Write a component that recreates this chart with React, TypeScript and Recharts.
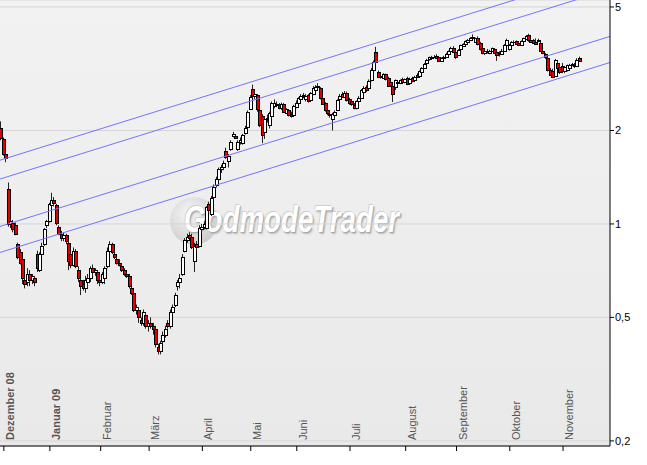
import React from 'react';
import { ComposedChart, Bar, XAxis, YAxis, CartesianGrid, ReferenceLine } from 'recharts';

type OHLC = [number, number, number, number];

// daily candles per month: [open, high, low, close]
const nov08: OHLC[] = [[2.03, 2.14, 1.86, 1.89]];
const dez08: OHLC[] = [
  [1.88, 1.9, 1.66, 1.68], [1.68, 1.7, 1.58, 1.63], [1.3, 1.36, 0.98, 1.0], [1.0, 1.05, 0.97, 1.02],
  [1.01, 1.03, 0.94, 0.96], [0.99, 1.01, 0.92, 0.93], [0.86, 0.87, 0.77, 0.78], [0.81, 0.83, 0.74, 0.75],
  [0.77, 0.78, 0.64, 0.67], [0.66, 0.68, 0.62, 0.64], [0.65, 0.72, 0.63, 0.69], [0.69, 0.71, 0.63, 0.66],
  [0.66, 0.69, 0.64, 0.68], [0.67, 0.68, 0.63, 0.65], [0.8, 0.82, 0.7, 0.72], [0.71, 0.81, 0.7, 0.8],
  [0.8, 0.87, 0.79, 0.85], [0.86, 0.97, 0.85, 0.96], [0.99, 1.03, 0.97, 1.02],
];
const jan09: OHLC[] = [
  [1.02, 1.17, 1.01, 1.16], [1.15, 1.26, 1.13, 1.19], [1.19, 1.22, 1.14, 1.17], [1.15, 1.16, 0.99, 1.01],
  [0.98, 0.99, 0.92, 0.93], [0.93, 0.95, 0.88, 0.9], [0.9, 0.94, 0.88, 0.92], [0.92, 0.93, 0.86, 0.88],
  [0.87, 0.89, 0.71, 0.76], [0.8, 0.82, 0.72, 0.74], [0.74, 0.84, 0.73, 0.82], [0.82, 0.83, 0.72, 0.73],
  [0.71, 0.73, 0.65, 0.67], [0.66, 0.67, 0.59, 0.63], [0.64, 0.66, 0.61, 0.62], [0.62, 0.68, 0.6, 0.66],
  [0.65, 0.69, 0.62, 0.67], [0.67, 0.73, 0.65, 0.72], [0.72, 0.74, 0.68, 0.7], [0.7, 0.72, 0.68, 0.71],
  [0.7, 0.71, 0.64, 0.66],
];
const feb09: OHLC[] = [
  [0.66, 0.67, 0.63, 0.65], [0.65, 0.7, 0.64, 0.69], [0.67, 0.73, 0.64, 0.72], [0.73, 0.84, 0.72, 0.82],
  [0.82, 0.88, 0.81, 0.86], [0.86, 0.87, 0.8, 0.81], [0.8, 0.82, 0.77, 0.78], [0.77, 0.78, 0.74, 0.75],
  [0.75, 0.77, 0.73, 0.74], [0.73, 0.74, 0.7, 0.71], [0.71, 0.72, 0.68, 0.69], [0.69, 0.7, 0.67, 0.68],
  [0.68, 0.69, 0.62, 0.63], [0.62, 0.63, 0.59, 0.6], [0.6, 0.61, 0.52, 0.53], [0.53, 0.55, 0.51, 0.54],
  [0.53, 0.54, 0.48, 0.5], [0.49, 0.5, 0.47, 0.48], [0.48, 0.53, 0.47, 0.52], [0.51, 0.52, 0.46, 0.47],
];
const mar09: OHLC[] = [
  [0.47, 0.49, 0.45, 0.48], [0.48, 0.5, 0.46, 0.47], [0.47, 0.48, 0.44, 0.46], [0.46, 0.47, 0.4, 0.41],
  [0.4, 0.41, 0.38, 0.39], [0.39, 0.42, 0.38, 0.415], [0.42, 0.45, 0.41, 0.44], [0.44, 0.47, 0.43, 0.46],
  [0.48, 0.49, 0.46, 0.47], [0.47, 0.53, 0.46, 0.52], [0.52, 0.55, 0.51, 0.54], [0.55, 0.6, 0.54, 0.59],
  [0.63, 0.66, 0.61, 0.65], [0.65, 0.69, 0.62, 0.67], [0.69, 0.8, 0.68, 0.78], [0.82, 0.9, 0.81, 0.89],
  [0.89, 0.93, 0.87, 0.91], [0.92, 0.94, 0.89, 0.9], [0.91, 0.93, 0.83, 0.84], [0.76, 0.87, 0.7, 0.85],
  [0.86, 0.88, 0.82, 0.84], [0.85, 0.99, 0.84, 0.97],
];
const apr09: OHLC[] = [
  [0.96, 1.0, 0.93, 0.98], [0.98, 1.02, 0.96, 1.0], [0.97, 1.14, 0.96, 1.13], [1.16, 1.18, 1.09, 1.11],
  [1.08, 1.23, 1.06, 1.21], [1.22, 1.34, 1.2, 1.32], [1.33, 1.42, 1.31, 1.4], [1.4, 1.52, 1.38, 1.5],
  [1.5, 1.55, 1.46, 1.52], [1.52, 1.6, 1.49, 1.57], [1.72, 1.76, 1.62, 1.64], [1.6, 1.68, 1.52, 1.66],
  [1.74, 1.86, 1.72, 1.84], [1.92, 1.98, 1.9, 1.95], [1.92, 1.94, 1.88, 1.89], [1.74, 1.86, 1.72, 1.84],
  [1.84, 1.9, 1.8, 1.86], [1.82, 1.95, 1.8, 1.93], [1.96, 2.07, 1.94, 2.04], [2.05, 2.32, 2.03, 2.3],
];
const mai09: OHLC[] = [
  [2.35, 2.6, 2.33, 2.57], [2.73, 2.81, 2.55, 2.58], [2.58, 2.68, 2.52, 2.63], [2.6, 2.62, 2.3, 2.35],
  [2.32, 2.36, 2.05, 2.08], [2.22, 2.26, 1.82, 1.93], [1.98, 2.22, 1.88, 2.18], [2.18, 2.25, 2.12, 2.2],
  [2.08, 2.3, 2.03, 2.27], [2.22, 2.48, 2.18, 2.45], [2.4, 2.52, 2.36, 2.46], [2.44, 2.48, 2.4, 2.42],
  [2.42, 2.45, 2.34, 2.36], [2.36, 2.46, 2.33, 2.44], [2.43, 2.45, 2.28, 2.3], [2.28, 2.36, 2.26, 2.34],
  [2.32, 2.34, 2.22, 2.24], [2.26, 2.3, 2.2, 2.22], [2.24, 2.42, 2.22, 2.4],
];
const jun09: OHLC[] = [
  [2.38, 2.5, 2.36, 2.46], [2.46, 2.56, 2.44, 2.54], [2.52, 2.62, 2.5, 2.59], [2.58, 2.64, 2.54, 2.6],
  [2.52, 2.62, 2.48, 2.58], [2.6, 2.62, 2.46, 2.49], [2.5, 2.66, 2.48, 2.64], [2.62, 2.78, 2.6, 2.74],
  [2.7, 2.8, 2.68, 2.77], [2.76, 2.84, 2.72, 2.78], [2.74, 2.76, 2.52, 2.55], [2.55, 2.57, 2.42, 2.44],
  [2.45, 2.47, 2.3, 2.32], [2.32, 2.34, 2.24, 2.27], [2.26, 2.3, 2.2, 2.24], [2.18, 2.28, 2.0, 2.26],
  [2.24, 2.32, 2.18, 2.3], [2.33, 2.52, 2.31, 2.5], [2.52, 2.62, 2.5, 2.59], [2.62, 2.66, 2.55, 2.57],
  [2.57, 2.68, 2.55, 2.65], [2.64, 2.67, 2.48, 2.5],
];
const jul09: OHLC[] = [
  [2.52, 2.55, 2.42, 2.45], [2.48, 2.52, 2.4, 2.43], [2.42, 2.45, 2.34, 2.36], [2.36, 2.5, 2.34, 2.48],
  [2.48, 2.58, 2.46, 2.55], [2.55, 2.72, 2.53, 2.7], [2.66, 2.78, 2.64, 2.75], [2.76, 2.8, 2.66, 2.7],
  [2.74, 2.92, 2.72, 2.88], [2.9, 3.18, 2.88, 3.14], [3.14, 3.36, 3.12, 3.32], [3.58, 3.72, 3.28, 3.32],
  [3.08, 3.12, 2.95, 2.97], [2.97, 3.04, 2.94, 3.0], [2.96, 3.06, 2.94, 3.03], [3.03, 3.05, 2.9, 2.92],
  [2.95, 2.98, 2.76, 2.78], [2.86, 2.88, 2.78, 2.8], [2.78, 2.8, 2.47, 2.62], [2.77, 2.92, 2.7, 2.9],
  [2.84, 2.88, 2.8, 2.86], [2.85, 2.92, 2.82, 2.9], [2.92, 2.96, 2.84, 2.86],
];
const aug09: OHLC[] = [
  [2.86, 2.94, 2.84, 2.92], [2.95, 2.98, 2.8, 2.83], [2.84, 2.96, 2.82, 2.94], [2.95, 2.98, 2.86, 2.88],
  [2.9, 3.0, 2.88, 2.98], [3.02, 3.06, 2.96, 2.98], [3.0, 3.12, 2.98, 3.1], [3.08, 3.2, 3.06, 3.18],
  [3.18, 3.3, 3.16, 3.28], [3.3, 3.4, 3.28, 3.38], [3.4, 3.46, 3.36, 3.44], [3.42, 3.48, 3.38, 3.46],
  [3.46, 3.5, 3.42, 3.46], [3.48, 3.52, 3.4, 3.42], [3.44, 3.46, 3.34, 3.36], [3.36, 3.44, 3.34, 3.42],
  [3.42, 3.48, 3.4, 3.46], [3.46, 3.56, 3.44, 3.54], [3.54, 3.62, 3.52, 3.6], [3.6, 3.72, 3.58, 3.69],
  [3.7, 3.74, 3.56, 3.58],
];
const sep09: OHLC[] = [
  [3.58, 3.62, 3.4, 3.46], [3.5, 3.66, 3.48, 3.64], [3.66, 3.78, 3.64, 3.76], [3.74, 3.82, 3.72, 3.8],
  [3.8, 3.9, 3.78, 3.88], [3.86, 3.94, 3.84, 3.92], [3.92, 4.0, 3.9, 3.98], [3.98, 4.08, 3.95, 3.99],
  [3.86, 3.98, 3.84, 3.96], [3.98, 4.02, 3.76, 3.8], [3.82, 3.86, 3.62, 3.66], [3.68, 3.72, 3.52, 3.55],
  [3.55, 3.66, 3.5, 3.62], [3.62, 3.66, 3.54, 3.57], [3.56, 3.64, 3.52, 3.62], [3.6, 3.7, 3.58, 3.68],
  [3.66, 3.68, 3.54, 3.56], [3.58, 3.62, 3.35, 3.5], [3.56, 3.6, 3.46, 3.52], [3.52, 3.66, 3.5, 3.62],
  [3.62, 3.8, 3.6, 3.78], [3.78, 3.95, 3.76, 3.92],
];
const okt09: OHLC[] = [
  [3.66, 3.8, 3.62, 3.76], [3.76, 3.88, 3.74, 3.86], [3.86, 3.9, 3.82, 3.86], [3.88, 3.9, 3.78, 3.8],
  [3.84, 3.86, 3.76, 3.78], [3.78, 3.9, 3.76, 3.88], [3.88, 3.98, 3.86, 3.96], [3.94, 4.06, 3.92, 4.04],
  [4.06, 4.1, 3.86, 3.9], [3.92, 3.96, 3.84, 3.86], [3.9, 3.94, 3.8, 3.82], [3.86, 3.96, 3.78, 3.8],
  [3.92, 3.95, 3.86, 3.88], [3.84, 3.86, 3.58, 3.62], [3.62, 3.66, 3.52, 3.55], [3.52, 3.55, 3.4, 3.44],
  [3.42, 3.45, 3.1, 3.14], [3.14, 3.18, 3.0, 3.02], [3.1, 3.16, 2.95, 2.98], [3.0, 3.4, 2.98, 3.38],
  [3.3, 3.35, 3.15, 3.18], [3.2, 3.28, 3.04, 3.08],
];
const nov09: OHLC[] = [
  [3.22, 3.3, 3.06, 3.1], [3.1, 3.22, 3.06, 3.2], [3.14, 3.26, 3.1, 3.24], [3.18, 3.28, 3.14, 3.26],
  [3.27, 3.3, 3.22, 3.27], [3.26, 3.3, 3.18, 3.22], [3.22, 3.42, 3.2, 3.38], [3.42, 3.46, 3.34, 3.36],
];

const monthLabels = ['Dezember 08', 'Januar 09', 'Februar', 'März', 'April', 'Mai', 'Juni', 'Juli', 'August', 'September', 'Oktober', 'November'];
const boldLabels = ['Dezember 08', 'Januar 09'];
const priceTicks = [0.2, 0.5, 1, 2, 5];

// trend channel: price of each line at the first and at the last candle
const channelStart = [1.61, 1.4, 0.985, 0.812];
const channelEnd = [6.13, 5.32, 3.75, 3.09];

const W = 647;
const H = 465;
const Y_AXIS_W = 37;
const X_AXIS_H = 19;
const X_DOMAIN: [number, number] = [-0.6, 251.4];
const Y_DOMAIN: [number, number] = [0.1926, 5.265];
const FONT = '"Liberation Sans", Arial, sans-serif';

const months = [dez08, jan09, feb09, mar09, apr09, mai09, jun09, jul09, aug09, sep09, okt09, nov09];
const data = [nov08, ...months].flat().map(([open, high, low, close], i) => ({
  i, open, high, low, close, range: [low, high],
}));
const monthStarts = months.map((_, m) => nov08.length + months.slice(0, m).reduce((s, a) => s + a.length, 0));
const lastIdx = data.length - 1;
const channelAt = (k: number, idx: number) =>
  channelStart[k] * Math.pow(channelEnd[k] / channelStart[k], idx / lastIdx);

function Candle(props: any) {
  const { x, y, width, height, payload } = props;
  if (x == null || y == null || !payload) return null;
  const { open, high, low, close } = payload;
  const top = Math.min(y, y + height);
  const h = Math.abs(height);
  const lh = Math.log(high);
  const ll = Math.log(low);
  const py = (v: number) => (lh === ll ? top : top + (h * (lh - Math.log(v))) / (lh - ll));
  const px = Math.round(x + width / 2);
  const up = close >= open;
  const bTop = Math.round(py(Math.max(open, close)));
  const bBot = Math.round(py(Math.min(open, close)));
  return (
    <g>
      <line x1={px - 0.5} x2={px - 0.5} y1={top} y2={top + h} stroke="#222" strokeWidth={1} />
      {bBot - bTop < 1 ? (
        <line x1={px - 2} x2={px + 2} y1={bTop + 0.5} y2={bTop + 0.5} stroke="#000" strokeWidth={1} />
      ) : (
        <rect x={px - 1.5} y={bTop + 0.5} width={3} height={bBot - bTop} fill={up ? '#ffffff' : '#e40000'} stroke="#000" strokeWidth={1} />
      )}
    </g>
  );
}

function MonthTick(props: any) {
  const { x, y, payload } = props;
  const label = monthLabels[monthStarts.indexOf(payload.value)];
  if (!label) return null;
  const ax = x + 10;
  const ay = y - 11;
  return (
    <text
      x={ax}
      y={ay}
      transform={`rotate(-90 ${ax} ${ay})`}
      textAnchor="start"
      fontSize={11}
      fontFamily={FONT}
      fontWeight={boldLabels.includes(label) ? 'bold' : 'normal'}
      fill="#555"
    >
      {label}
    </text>
  );
}

function Watermark() {
  return (
    <>
      <div
        style={{
          position: 'absolute', left: 170, top: 197, width: 48, height: 48, borderRadius: '50%',
          background: 'radial-gradient(circle at 40% 35%, #f6f6f6 0%, #d8d8d8 55%, #bdbdbd 100%)',
        }}
      />
      <div
        style={{
          position: 'absolute', left: 184, top: 198, fontFamily: FONT, fontWeight: 'bold', fontStyle: 'italic',
          fontSize: 36, lineHeight: '44px', color: '#ffffff', whiteSpace: 'nowrap',
          textShadow: '1px 1px 0 #a8a8a8, 2px 2px 2px #bbbbbb, -1px -1px 0 #d0d0d0',
          transform: 'scaleX(0.77)', transformOrigin: 'left top',
        }}
      >
        GodmodeTrader
      </div>
    </>
  );
}

export default function App() {
  return (
    <div style={{ position: 'absolute', left: 0, top: 0, width: W, height: H, background: '#fff', overflow: 'hidden' }}>
      <div
        style={{
          position: 'absolute', left: 0, top: 0, width: W - Y_AXIS_W, height: H - X_AXIS_H,
          background: 'linear-gradient(#f2f2f2, #e9e9e9)',
        }}
      />
      <Watermark />
      <div style={{ position: 'absolute', left: 0, top: 0 }}>
        <ComposedChart width={W} height={H} data={data} margin={{ top: 0, right: 0, bottom: 0, left: 0 }}>
          <CartesianGrid vertical={false} stroke="#d6d6d6" />
          <XAxis
            type="number"
            dataKey="i"
            domain={X_DOMAIN}
            allowDataOverflow
            ticks={monthStarts}
            interval={0}
            height={X_AXIS_H}
            tickSize={5}
            tickMargin={0}
            axisLine={{ stroke: '#000' }}
            tickLine={{ stroke: '#000' }}
            tick={<MonthTick />}
          />
          <YAxis
            orientation="right"
            scale="log"
            domain={Y_DOMAIN}
            allowDataOverflow
            ticks={priceTicks}
            interval={0}
            width={Y_AXIS_W}
            tickSize={4}
            tickMargin={1}
            axisLine={{ stroke: '#000' }}
            tickLine={{ stroke: '#000' }}
            tick={{ fill: '#000', fontSize: 11, fontFamily: FONT }}
            tickFormatter={(v: number) => String(v).replace('.', ',')}
          />
          {channelStart.map((_, k) => (
            <ReferenceLine
              key={k}
              segment={[
                { x: X_DOMAIN[0], y: channelAt(k, X_DOMAIN[0]) },
                { x: X_DOMAIN[1], y: channelAt(k, X_DOMAIN[1]) },
              ]}
              ifOverflow="hidden"
              stroke="#7474ff"
              strokeWidth={1}
            />
          ))}
          <Bar dataKey="range" barSize={2} shape={<Candle />} isAnimationActive={false} />
        </ComposedChart>
      </div>
    </div>
  );
}
